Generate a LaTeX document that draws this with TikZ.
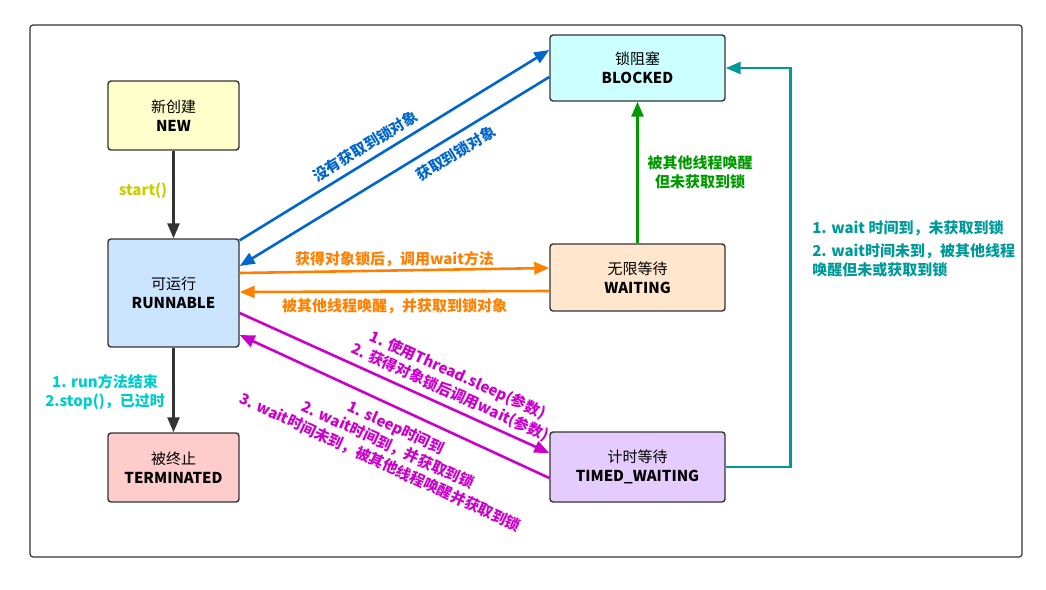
\documentclass[tikz,border=0pt]{standalone}
\usepackage{fontspec}
\setmainfont{Noto Sans CJK SC}
\usetikzlibrary{arrows.meta}

\definecolor{newc}{HTML}{FFFFCC}
\definecolor{runc}{HTML}{CCE5FF}
\definecolor{endc}{HTML}{FFCCCC}
\definecolor{blkc}{HTML}{CCFFFF}
\definecolor{waic}{HTML}{FFE6CC}
\definecolor{timc}{HTML}{E5CCFF}
\definecolor{edge}{HTML}{333333}
\definecolor{bluec}{HTML}{0066CC}
\definecolor{orangec}{HTML}{FF8000}
\definecolor{magc}{HTML}{CC00CC}
\definecolor{greenc}{HTML}{009900}
\definecolor{tealc}{HTML}{009999}
\definecolor{cyanc}{HTML}{00CCCC}
\definecolor{yelc}{HTML}{CCCC00}

\begin{document}
\begin{tikzpicture}[
  x=1pt,y=-1pt,
  >={Triangle[length=15pt,width=12pt]},
  stbox/.style={draw=edge,line width=1.4pt,rounded corners=3pt,minimum width=131pt,minimum height=69pt,
    align=center,font=\fontsize{15}{19}\selectfont},
  wide/.style={minimum width=175pt},
  lbl/.style={font=\fontsize{15}{19}\selectfont\bfseries,align=center,inner sep=2pt},
  every path/.style={line width=2.6pt}
]
  \useasboundingbox (0,0) rectangle (1046,589);
  \draw[line width=1.2pt,draw=edge,rounded corners=3pt] (30,25) rectangle (1022,557);

  % states
  \node[stbox,fill=newc] (new) at (173.5,115.5) {新创建\\\textbf{NEW}};
  \node[stbox,fill=runc,minimum height=108pt] (run) at (173.5,293) {可运行\\\textbf{RUNNABLE}};
  \node[stbox,fill=endc] (term) at (173.5,467.5) {被终止\\\textbf{TERMINATED}};
  \node[stbox,wide,fill=blkc,minimum height=66pt] (blk) at (637.5,68) {锁阻塞\\\textbf{BLOCKED}};
  \node[stbox,wide,fill=waic,minimum height=67pt] (wai) at (637.5,277.5) {无限等待\\\textbf{WAITING}};
  \node[stbox,wide,fill=timc,minimum height=70pt] (tim) at (637.5,467) {计时等待\\\textbf{TIMED\_WAITING}};

  % transitions
  \draw[->,edge] (new) -- (run);
  \node[lbl,text=yelc] (startl) at (143,191) {start()};
  \draw[->,edge] (run) -- (term);
  \node[lbl,text=cyanc] (endl) at (105,392) {1. run方法结束\\2.stop()，已过时};

  \draw[->,bluec] ([yshift=-2pt]run.north east) -- node[lbl,sloped,above=4pt,pos=0.43,text=bluec]{没有获取到锁对象} ([yshift=18pt]blk.west);
  \draw[->,bluec] ([yshift=-9pt]blk.west) -- node[lbl,sloped,below=6pt,pos=0.33,text=bluec]{获取到锁对象} ([yshift=27pt]run.east);

  \draw[->,orangec] ([yshift=20pt]run.east) -- node[lbl,above,text=orangec]{获得对象锁后，调用wait方法} ([yshift=9.5pt]wai.west);
  \draw[->,orangec] ([yshift=-13.5pt]wai.west) -- node[lbl,below=4pt,pos=0.5,text=orangec]{被其他线程唤醒，并获取到锁对象} ([yshift=1pt]run.east);

  \draw[->,magc] ([yshift=-20pt]run.east) -- node[lbl,sloped,above=3pt,pos=0.66,text=magc]{1. 使用Thread.sleep(参数)\\2. 获得对象锁后调用wait(参数)} ([yshift=14pt]tim.west);
  \draw[->,magc] ([yshift=-11pt]tim.west) -- node[lbl,sloped,below=8pt,pos=0.47,text=magc]{1. sleep时间到\\2. wait时间到，并获取到锁\\3. wait时间未到，被其他线程唤醒并获取到锁} ([yshift=-42pt]run.east);

  \draw[->,greenc] (wai) -- (blk);
  \node[lbl,text=greenc] (wakel) at (700,172) {被其他线程唤醒\\但未获取到锁};

  \draw[->,tealc] (tim.east) -- ++(65,0) |- (blk.east);
  \node[lbl,text=tealc,align=left,anchor=west] (timel) at (809,249) {1. wait 时间到，未获取到锁\\[4pt]2. wait时间未到，被其他线程\\唤醒但未或获取到锁};
\end{tikzpicture}
\end{document}
